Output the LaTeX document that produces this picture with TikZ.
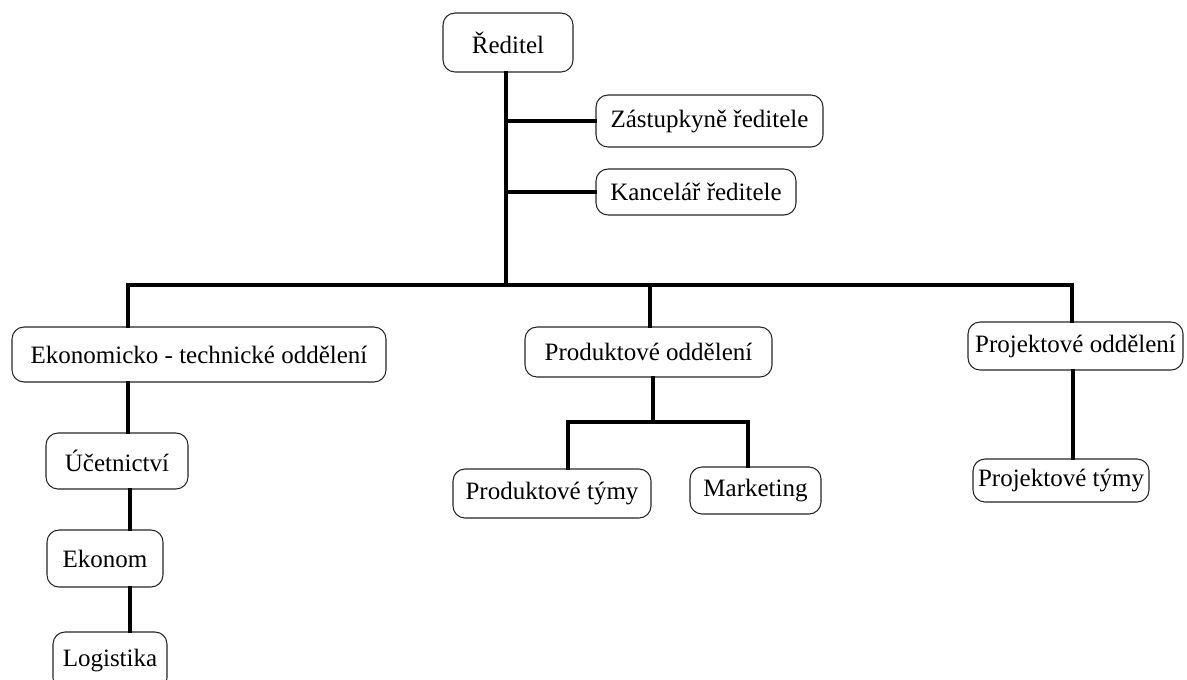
\documentclass[tikz,border=0pt]{standalone}
\usepackage{fontspec}
\setmainfont{Liberation Serif}
\begin{document}
\begin{tikzpicture}[x=0.75pt,y=-0.75pt,
  box/.style={draw=black!85, line width=0.8pt, rounded corners=9pt, fill=white,
    inner sep=0pt, font=\fontsize{18.75}{22}\selectfont},
  conn/.style={line width=3pt, line join=miter, line cap=rect}]
\useasboundingbox (0,0) rectangle (1187,679);
\clip (0,0) rectangle (1187,679);
% nodes
\node[box, minimum width=97.5pt, minimum height=44.25pt] (red) at (508,42.5) {Ředitel};
\node[box, minimum width=170.25pt, minimum height=39pt] (zast) at (709.5,121) {Zástupkyně ředitele};
\node[box, minimum width=150pt, minimum height=34.5pt] (kanc) at (696,192) {Kancelář ředitele};
\node[box, minimum width=280.5pt, minimum height=41.25pt] (ekon) at (199,354.5) {Ekonomicko - technické oddělení};
\node[box, minimum width=185.25pt, minimum height=37.5pt] (prod) at (648.5,352) {Produktové oddělení};
\node[box, minimum width=161.25pt, minimum height=36pt] (proj) at (1075.5,346) {Projektové oddělení};
\node[box, minimum width=106.5pt, minimum height=42pt] (ucet) at (117,461) {Účetnictví};
\node[box, minimum width=87pt, minimum height=42.75pt] (ekonom) at (105,558.5) {Ekonom};
\node[box, minimum width=85.5pt, minimum height=43.5pt] (logist) at (110,661) {Logistika};
\node[box, minimum width=148.5pt, minimum height=36.75pt] (ptymy) at (552,493.5) {Produktové týmy};
\node[box, minimum width=98.25pt, minimum height=35.25pt] (mark) at (755.5,490.5) {Marketing};
\node[box, minimum width=132pt, minimum height=32.25pt] (jtymy) at (1061,480.5) {Projektové týmy};
% junction coordinates
\coordinate (j1) at (506,285);
\coordinate (bl) at (128,285);
\coordinate (bm) at (650,285);
\coordinate (br) at (1072,285);
\coordinate (e1) at (128,400);
\coordinate (e2) at (130,500);
\coordinate (p1) at (653,422);
\coordinate (pl) at (568,422);
\coordinate (pr) at (748,422);
\coordinate (r1) at (1073,400);
% connectors
\draw[conn] (red.south -| j1) -- (j1);
\draw[conn] (zast.west) -- (zast.west -| j1);
\draw[conn] (kanc.west) -- (kanc.west -| j1);
\draw[conn] (ekon.north -| bl) -- (bl) -- (br) -- (proj.north -| br);
\draw[conn] (bm) -- (prod.north -| bm);
\draw[conn] (ekon.south -| e1) -- (ucet.north -| e1);
\draw[conn] (ucet.south -| e2) -- (ekonom.north -| e2);
\draw[conn] (ekonom.south -| e2) -- (logist.north -| e2);
\draw[conn] (prod.south -| p1) -- (p1);
\draw[conn] (ptymy.north -| pl) -- (pl) -- (pr) -- (mark.north -| pr);
\draw[conn] (proj.south -| r1) -- (jtymy.north -| r1);
\end{tikzpicture}
\end{document}
